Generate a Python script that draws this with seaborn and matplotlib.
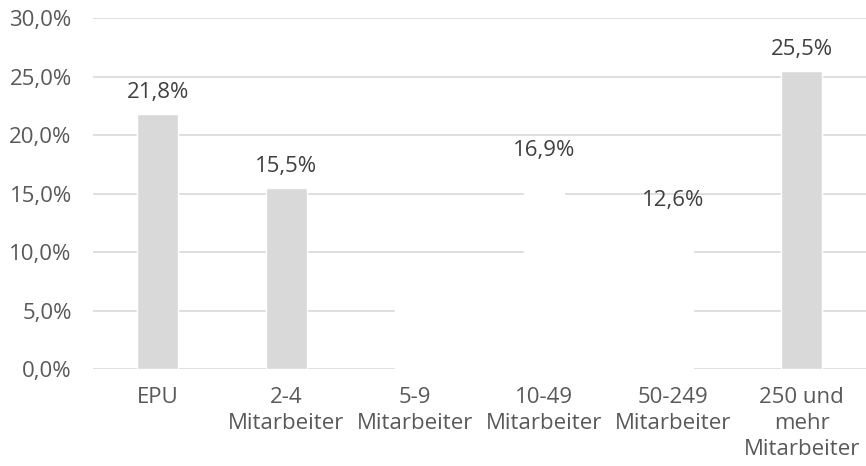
import matplotlib
matplotlib.use("Agg")
import matplotlib.pyplot as plt
import seaborn as sns
import pandas as pd

# Share of companies by size class (percent)
categories = [
    "EPU",
    "2-4\nMitarbeiter",
    "5-9\nMitarbeiter",
    "10-49\nMitarbeiter",
    "50-249\nMitarbeiter",
    "250 und\nmehr\nMitarbeiter",
]
shares = [21.8, 15.5, 8.0, 16.9, 12.6, 25.5]
show_label = [True, True, False, True, True, True]
bar_colors = ["#D9D9D9", "#D9D9D9", "#FFFFFF", "#FFFFFF", "#FFFFFF", "#D9D9D9"]
y_ticks = [0, 5, 10, 15, 20, 25, 30]

GRID = "#D9D9D9"
TICK_TXT = "#595959"
LABEL_TXT = "#404040"
FS = 16

sns.set_theme(style="white")
plt.rcParams["font.family"] = ["Open Sans", "DejaVu Sans"]

df = pd.DataFrame({"category": categories, "share": shares})

fig = plt.figure(figsize=(8.66, 4.66), dpi=100)
ax = fig.add_axes([0.1077, 0.2075, 0.8923, 0.7532])

sns.barplot(
    data=df, x="category", y="share", hue="category",
    palette=bar_colors, width=0.316, legend=False,
    saturation=1, ax=ax,
)

# white bars sitting side by side are joined at the lower of the two heights
patches = sorted(ax.patches, key=lambda p: p.get_x())
for i in range(len(patches) - 1):
    if bar_colors[i] == "#FFFFFF" and bar_colors[i + 1] == "#FFFFFF":
        left = patches[i].get_x() + patches[i].get_width()
        right = patches[i + 1].get_x()
        h = min(shares[i], shares[i + 1])
        ax.fill_between([left, right], 0, h, color="white", lw=0, zorder=1)

ax.set_ylim(0, 30)
ax.set_xlim(-0.5, len(categories) - 0.5)
ax.set_yticks(y_ticks)
ax.set_yticklabels([f"{t:.1f}".replace(".", ",") + "%" for t in y_ticks])
ax.yaxis.grid(True, color=GRID, linewidth=1.2)
ax.set_axisbelow(True)
for s in ax.spines.values():
    s.set_visible(False)

ax.set_xlabel("")
ax.set_ylabel("")
ax.tick_params(axis="y", length=0, pad=15.5, labelsize=FS, labelcolor=TICK_TXT)
ax.tick_params(axis="x", length=0, pad=13, labelsize=FS, labelcolor=TICK_TXT)
for t in ax.get_xticklabels():
    t.set_linespacing(1.3)

for i, (v, show) in enumerate(zip(shares, show_label)):
    if show:
        ax.annotate(
            f"{v:.1f}".replace(".", ",") + "%",
            xy=(i, v), xytext=(0, 11.5), textcoords="offset points",
            ha="center", va="baseline", fontsize=FS, color=LABEL_TXT,
        )

fig.savefig("out.png", dpi=100)
